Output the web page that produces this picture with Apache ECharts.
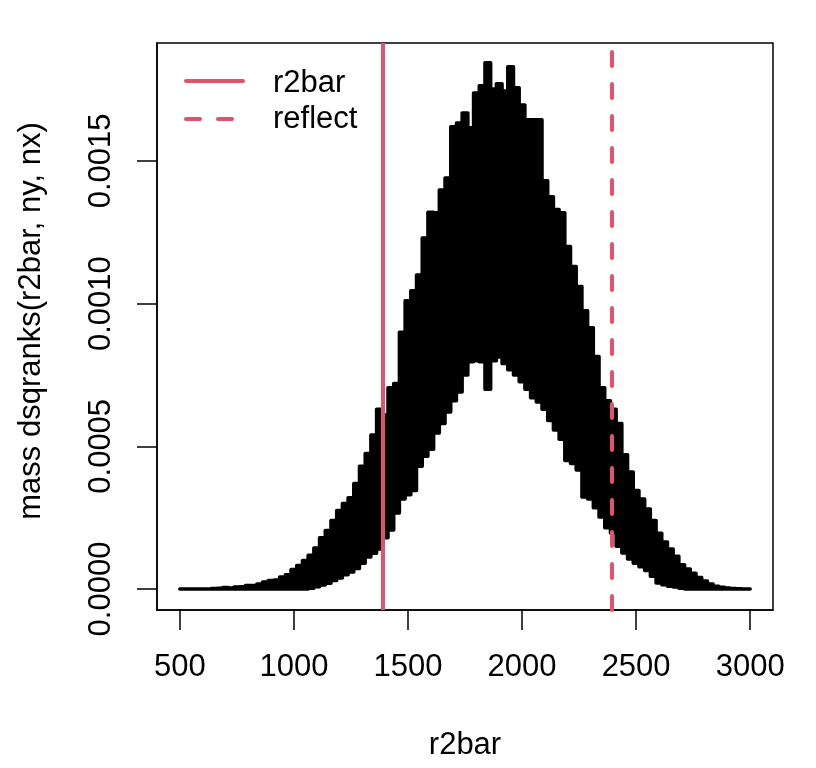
<!DOCTYPE html>
<html>
<head>
<meta charset="utf-8">
<script src="https://cdn.jsdelivr.net/npm/echarts@6/dist/echarts.min.js"></script>
<style>
html, body { margin: 0; padding: 0; background: #fff; }
#chart { width: 816px; height: 768px; }
</style>
</head>
<body>
<div id="chart"></div>
<script>
var r2 = [500, 525, 550, 575, 600, 625, 650, 675, 700, 725,
          750, 775, 800, 825, 850, 875, 900, 925, 950, 975,
          1000, 1025, 1050, 1075, 1100, 1125, 1150, 1175, 1200, 1225,
          1250, 1275, 1300, 1325, 1350, 1375, 1400, 1425, 1450, 1475,
          1500, 1525, 1550, 1575, 1600, 1625, 1650, 1675, 1700, 1725,
          1750, 1775, 1800, 1825, 1850, 1875, 1900, 1925, 1950, 1975,
          2000, 2025, 2050, 2075, 2100, 2125, 2150, 2175, 2200, 2225,
          2250, 2275, 2300, 2325, 2350, 2375, 2400, 2425, 2450, 2475,
          2500, 2525, 2550, 2575, 2600, 2625, 2650, 2675, 2700, 2725,
          2750, 2775, 2800, 2825, 2850, 2875, 2900, 2925, 2950, 2975,
          3000];

// top of the oscillating mass line (spikes)
var massTop = [0, 0, 0, 0, 0, 0, 0.000002, 0.000003, 0.000005, 0.000004,
               0.000007, 0.000008, 0.000012, 0.000012, 0.000018, 0.000025, 0.000030, 0.000032, 0.000042, 0.000050,
               0.000068, 0.000082, 0.000100, 0.000118, 0.000144, 0.000180, 0.000205, 0.000240, 0.000275, 0.000300,
               0.000320, 0.000370, 0.000430, 0.000475, 0.000540, 0.000630, 0.000610, 0.000705, 0.000720, 0.000900,
               0.001010, 0.001045, 0.001100, 0.001230, 0.001320, 0.001318, 0.001398, 0.001440, 0.001620, 0.001633,
               0.001668, 0.001616, 0.001738, 0.001763, 0.001844, 0.001752, 0.001770, 0.001745, 0.001830, 0.001756,
               0.001696, 0.001644, 0.001644, 0.001644, 0.001430, 0.001374, 0.001330, 0.001318, 0.001200, 0.001130,
               0.001060, 0.000975, 0.000915, 0.000815, 0.000705, 0.000660, 0.000630, 0.000580, 0.000470, 0.000410,
               0.000345, 0.000315, 0.000280, 0.000240, 0.000195, 0.000165, 0.000140, 0.000115, 0.000085, 0.000070,
               0.000055, 0.000040, 0.000028, 0.000018, 0.000010, 0.000006, 0.000004, 0.000002, 0.000001, 0,
               0];

// bottom of the oscillating mass line (dips)
var massLow = [0, 0, 0, 0, 0, 0, 0, 0, 0, 0,
               0, 0, 0, 0, 0, 0, 0, 0, 0, 0,
               0, 0, 0, 0.000003, 0.000008, 0.000014, 0.000020, 0.000030, 0.000039, 0.000050,
               0.000060, 0.000072, 0.000090, 0.000112, 0.000125, 0.000140, 0.000180, 0.000207, 0.000266, 0.000315,
               0.000330, 0.000345, 0.000430, 0.000465, 0.000490, 0.000547, 0.000580, 0.000620, 0.000660, 0.000690,
               0.000750, 0.000796, 0.000800, 0.000796, 0.000700, 0.000800, 0.000813, 0.000790, 0.000768, 0.000750,
               0.000726, 0.000700, 0.000670, 0.000655, 0.000630, 0.000590, 0.000557, 0.000525, 0.000450, 0.000440,
               0.000417, 0.000322, 0.000315, 0.000285, 0.000252, 0.000215, 0.000196, 0.000150, 0.000126, 0.000105,
               0.000090, 0.000078, 0.000065, 0.000045, 0.000021, 0.000015, 0.000010, 0.000007, 0.000003, 0,
               0, 0, 0, 0, 0, 0, 0, 0, 0, 0,
               0];

var xTicks = [500, 1000, 1500, 2000, 2500, 3000];
var yTicks = [0, 0.0005, 0.0010, 0.0015];

var r2bar = 1390;
var reflect = 2395;

var red = '#DF536B';
var fontFam = '"Liberation Sans", Arial, Helvetica, sans-serif';
var fs = 31;

var myChart = echarts.init(document.getElementById('chart'));

var option = {
  animation: false,
  backgroundColor: '#fff',
  grid: {
    left: 157, top: 43, width: 616, height: 567,
    show: true, borderColor: '#000', borderWidth: 1.5,
    outerBoundsMode: 'none'
  },
  xAxis: {
    type: 'value', min: 400, max: 3100,
    axisLine: { show: true, onZero: false, lineStyle: { color: '#000', width: 1.5 } },
    axisTick: { show: true, length: 20, customValues: xTicks, lineStyle: { color: '#000', width: 1.5 } },
    axisLabel: {
      customValues: xTicks, margin: 42, color: '#000', fontSize: fs, fontFamily: fontFam,
      formatter: function (v) { return String(v); }
    },
    splitLine: { show: false }
  },
  yAxis: {
    type: 'value', min: -0.0000735, max: 0.001913,
    axisLine: { show: true, onZero: false, lineStyle: { color: '#000', width: 1.5 } },
    axisTick: { show: true, length: 20, customValues: yTicks, lineStyle: { color: '#000', width: 1.5 } },
    axisLabel: {
      customValues: yTicks, rotate: 90, margin: 40, color: '#000', fontSize: fs, fontFamily: fontFam,
      formatter: function (v) { return v.toFixed(4); }
    },
    splitLine: { show: false }
  },
  series: [
    {
      // the dense mass line, drawn as a stepped band between its tops and dips
      type: 'custom',
      silent: true,
      data: [[r2[0], massTop[0]]],
      renderItem: function (params, api) {
        var half = (r2[1] - r2[0]) / 2;
        var n = r2.length;
        var pts = [];
        for (var i = 0; i < n; i++) {
          var a = i === 0 ? r2[i] : r2[i] - half;
          var b = i === n - 1 ? r2[i] : r2[i] + half;
          pts.push(api.coord([a, massTop[i]]));
          pts.push(api.coord([b, massTop[i]]));
        }
        for (var j = n - 1; j >= 0; j--) {
          var c = j === n - 1 ? r2[j] : r2[j] + half;
          var d = j === 0 ? r2[j] : r2[j] - half;
          pts.push(api.coord([c, massLow[j]]));
          pts.push(api.coord([d, massLow[j]]));
        }
        return {
          type: 'polygon',
          shape: { points: pts },
          style: { fill: '#000', stroke: '#000', lineWidth: 3.5, lineJoin: 'round' }
        };
      },
      markLine: {
        silent: true,
        symbol: 'none',
        label: { show: false },
        data: [
          { xAxis: r2bar, lineStyle: { color: red, width: 4, type: 'solid' } },
          { xAxis: reflect, lineStyle: { color: red, width: 4, type: [14, 18], cap: 'round' } }
        ]
      }
    }
  ],
  graphic: [
    // legend
    { type: 'line', shape: { x1: 186, y1: 81, x2: 243, y2: 81 },
      style: { stroke: red, lineWidth: 4, lineCap: 'round' } },
    { type: 'line', shape: { x1: 186, y1: 119, x2: 243, y2: 119 },
      style: { stroke: red, lineWidth: 4, lineCap: 'round', lineDash: [14, 18] } },
    { type: 'text', x: 273, y: 83,
      style: { text: 'r2bar', fill: '#000', fontSize: fs, fontFamily: fontFam, align: 'left', verticalAlign: 'middle' } },
    { type: 'text', x: 273, y: 119,
      style: { text: 'reflect', fill: '#000', fontSize: fs, fontFamily: fontFam, align: 'left', verticalAlign: 'middle' } },
    // axis titles
    { type: 'text', x: 465, y: 745,
      style: { text: 'r2bar', fill: '#000', fontSize: fs, fontFamily: fontFam, align: 'center', verticalAlign: 'middle' } },
    { type: 'text', x: 31, y: 321, rotation: Math.PI / 2,
      style: { text: 'mass dsqranks(r2bar, ny, nx)', fill: '#000', fontSize: fs, fontFamily: fontFam, align: 'center', verticalAlign: 'middle' } }
  ]
};

if (option && typeof option === "object") {
  myChart.setOption(option, true);
}
</script>
</body>
</html>
